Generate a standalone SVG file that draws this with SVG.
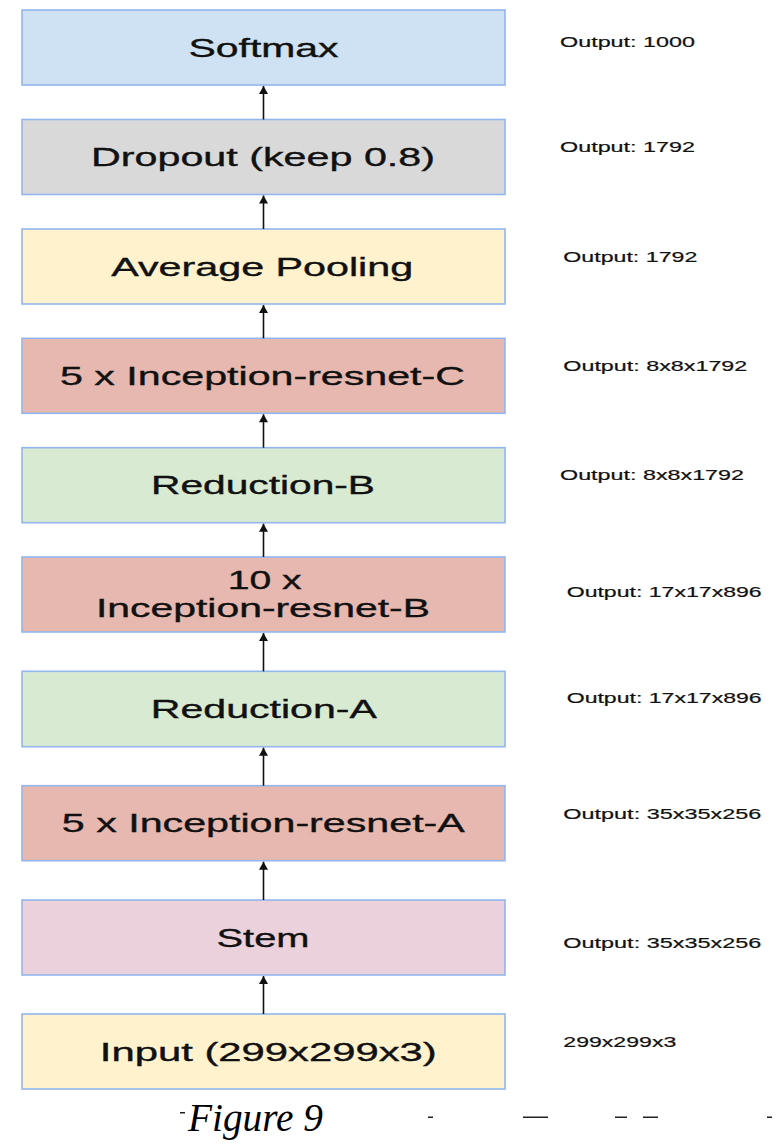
<svg xmlns="http://www.w3.org/2000/svg" width="776" height="1148" viewBox="0 0 776 1148">
<style>
.box{stroke:#93b6ee;stroke-width:1.6}
.lbl{font-family:"Liberation Sans",Arial,sans-serif;font-size:25px;fill:#111;stroke:#111;stroke-width:0.35;text-anchor:middle}
.out{font-family:"Liberation Sans",Arial,sans-serif;font-size:15px;fill:#111;stroke:#111;stroke-width:0.2}
.conn{stroke:#111;stroke-width:1.6;fill:none}
.cap{font-family:"Liberation Serif","Times New Roman",serif;font-style:italic;font-size:40px;fill:#000}
.mark{fill:#222}
</style>
<defs>
<marker id="ah" markerUnits="userSpaceOnUse" markerWidth="10" markerHeight="10" viewBox="0 0 10 10" refX="9.5" refY="5" orient="auto">
<path d="M9.5 5 L1.5 0.5 L1.5 9.5 Z" fill="#111"/>
</marker>
</defs>
<rect width="776" height="1148" fill="#fff"/>
<g id="softmax"><rect class="box" x="22" y="10" width="483" height="75" fill="#cfe2f3"/><text class="lbl" x="263.5" y="57.3" textLength="150" lengthAdjust="spacingAndGlyphs">Softmax</text></g>
<g id="dropout"><rect class="box" x="22" y="119.5" width="483" height="75" fill="#d9d9d9"/><text class="lbl" x="263" y="166" textLength="344" lengthAdjust="spacingAndGlyphs">Dropout (keep 0.8)</text></g>
<g id="avgpool"><rect class="box" x="22" y="229" width="483" height="75" fill="#fff2cc"/><text class="lbl" x="262.2" y="276" textLength="302" lengthAdjust="spacingAndGlyphs">Average Pooling</text></g>
<g id="incC"><rect class="box" x="22" y="338.3" width="483" height="75" fill="#e6b8af"/><text class="lbl" x="262.5" y="384.5" textLength="405" lengthAdjust="spacingAndGlyphs">5 x Inception-resnet-C</text></g>
<g id="redB"><rect class="box" x="22" y="447.7" width="483" height="75" fill="#d9ead3"/><text class="lbl" x="263" y="494" textLength="224" lengthAdjust="spacingAndGlyphs">Reduction-B</text></g>
<g id="incB"><rect class="box" x="22" y="557" width="483" height="75" fill="#e6b8af"/><text class="lbl" x="264.7" y="589.3" textLength="74" lengthAdjust="spacingAndGlyphs">10 x</text><text class="lbl" x="263" y="617.3" textLength="334" lengthAdjust="spacingAndGlyphs">Inception-resnet-B</text></g>
<g id="redA"><rect class="box" x="22" y="671.3" width="483" height="75.4" fill="#d9ead3"/><text class="lbl" x="263.8" y="718.3" textLength="226" lengthAdjust="spacingAndGlyphs">Reduction-A</text></g>
<g id="incA"><rect class="box" x="22" y="785.7" width="483" height="75" fill="#e6b8af"/><text class="lbl" x="263.3" y="831.8" textLength="403" lengthAdjust="spacingAndGlyphs">5 x Inception-resnet-A</text></g>
<g id="stem"><rect class="box" x="22" y="900" width="483" height="75" fill="#ead1dc"/><text class="lbl" x="263" y="946.7" textLength="93" lengthAdjust="spacingAndGlyphs">Stem</text></g>
<g id="input"><rect class="box" x="22" y="1014" width="483" height="75" fill="#fff2cc"/><text class="lbl" x="268.3" y="1061" textLength="337" lengthAdjust="spacingAndGlyphs">Input (299x299x3)</text></g>
<g id="connectors">
<line class="conn" x1="263.5" y1="119.5" x2="263.5" y2="86" marker-end="url(#ah)"/>
<line class="conn" x1="263.5" y1="229" x2="263.5" y2="195.5" marker-end="url(#ah)"/>
<line class="conn" x1="263.5" y1="338.3" x2="263.5" y2="305" marker-end="url(#ah)"/>
<line class="conn" x1="263.5" y1="447.7" x2="263.5" y2="414.3" marker-end="url(#ah)"/>
<line class="conn" x1="263.5" y1="557" x2="263.5" y2="523.7" marker-end="url(#ah)"/>
<line class="conn" x1="263.5" y1="671.3" x2="263.5" y2="633" marker-end="url(#ah)"/>
<line class="conn" x1="263.5" y1="785.7" x2="263.5" y2="747.7" marker-end="url(#ah)"/>
<line class="conn" x1="263.5" y1="900" x2="263.5" y2="861.7" marker-end="url(#ah)"/>
<line class="conn" x1="263.5" y1="1014" x2="263.5" y2="976" marker-end="url(#ah)"/>
</g>
<g id="outputs">
<text class="out" x="560" y="47.3" textLength="135" lengthAdjust="spacingAndGlyphs">Output: 1000</text>
<text class="out" x="560" y="151.7" textLength="135" lengthAdjust="spacingAndGlyphs">Output: 1792</text>
<text class="out" x="563.3" y="261.7" textLength="134" lengthAdjust="spacingAndGlyphs">Output: 1792</text>
<text class="out" x="563.3" y="370.7" textLength="184" lengthAdjust="spacingAndGlyphs">Output: 8x8x1792</text>
<text class="out" x="560" y="480" textLength="184" lengthAdjust="spacingAndGlyphs">Output: 8x8x1792</text>
<text class="out" x="566.7" y="597.3" textLength="195" lengthAdjust="spacingAndGlyphs">Output: 17x17x896</text>
<text class="out" x="566.7" y="703.3" textLength="195" lengthAdjust="spacingAndGlyphs">Output: 17x17x896</text>
<text class="out" x="563.3" y="819" textLength="198" lengthAdjust="spacingAndGlyphs">Output: 35x35x256</text>
<text class="out" x="563.3" y="948.3" textLength="198" lengthAdjust="spacingAndGlyphs">Output: 35x35x256</text>
<text class="out" x="563.3" y="1046.7" textLength="113" lengthAdjust="spacingAndGlyphs">299x299x3</text>
</g>
<g id="caption">
<text class="cap" x="188" y="1131" textLength="135" lengthAdjust="spacingAndGlyphs">Figure 9</text>
<rect class="mark" x="180" y="1112" width="5" height="1.5"/>
<rect class="mark" x="428" y="1116.5" width="5" height="1.5"/>
<rect class="mark" x="523" y="1116.5" width="25" height="1.5"/>
<rect class="mark" x="615" y="1116.5" width="12" height="1.5"/>
<rect class="mark" x="643" y="1116.5" width="15" height="1.5"/>
<rect class="mark" x="767" y="1116.5" width="5" height="1.5"/>
</g>
</svg>
